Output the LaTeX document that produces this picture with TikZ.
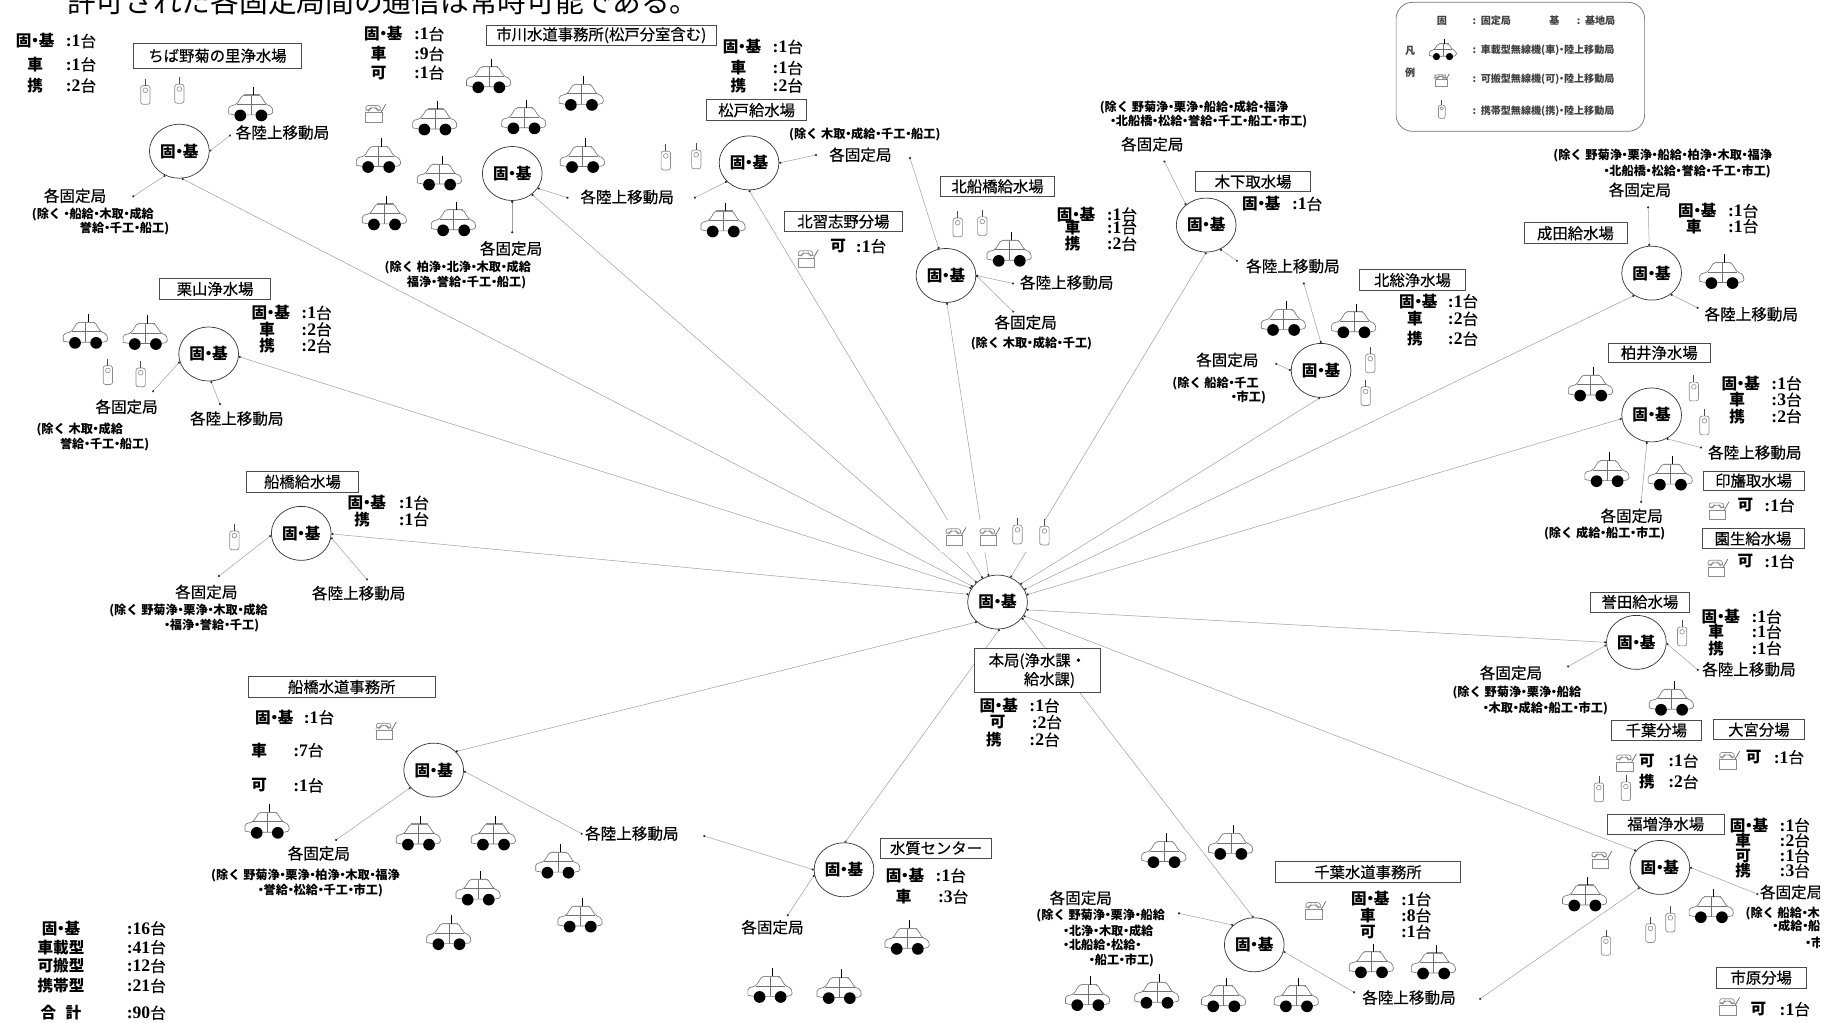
\documentclass[tikz,border=0pt]{standalone}
\usepackage{fontspec}
\usetikzlibrary{shapes.geometric,arrows.meta}
\setmainfont{Noto Sans CJK JP}
\newfontfamily\latf{Liberation Serif}
\newfontfamily\midf[FakeBold=0.35]{Noto Sans CJK JP}
\newcommand\nd{\kern-.27em ・\kern-.27em }
\newcommand\kk{固\nd 基}
\newcount\idx
\newcommand\bump{\global\advance\idx by 1\relax}
\newcommand\fs[1]{\fontsize{#1}{#1}\selectfont}
\tikzset{
 link/.style={draw=black!38,line width=.42pt,{Circle[length=1.8pt,black!85]}-{Circle[length=1.8pt,black!85]}},
 st/.style={ellipse,draw=black!80,line width=.6pt,fill=white,minimum width=51pt,minimum height=46pt,inner sep=0pt,font=\fs{13.3}\bfseries},
 bx/.style={draw=black!70,line width=.6pt,fill=white,inner sep=0pt,font=\fs{13.1}\midf,align=center},
 lb/.style={inner sep=0pt,font=\fs{13.3}\midf},
 sl/.style={inner sep=0pt,font=\fs{13.3}\bfseries},
 sc/.style={inner sep=0pt,anchor=west,font=\fs{13.3}\midf},
 ex/.style={inner sep=0pt,anchor=west,font=\fs{10.4}\bfseries},
 lg/.style={inner sep=0pt,font=\fs{8.6}\bfseries,text=black!75},
 caricon/.pic={
  \draw[black!55,line width=.55pt,rounded corners=1.5pt] (-19,7)--(-19,1)--(-12,-1)--(-7,-9)--(8,-9)--(13,-1)--(18,1)--(19,7)--(14,8) (-14,8)--(-19,7) (-4,8)--(4,8);
  \draw[black!55,line width=.5pt] (-12,-1)--(13,-1) (0,-9)--(0,8);
  \draw[black!45,line width=1pt] (-6,-9)--(8,-9);
  \draw[black,line width=.7pt] (2,-16)--(2,-9);
  \fill[black] (-9,8.5) circle[radius=5] (9,8.5) circle[radius=5];
 },
 radioicon/.pic={
  \draw[black!45,line width=.6pt] (-8,0) rectangle (6,8);
  \draw[black!45,line width=.6pt,rounded corners=2pt] (-8,-2)--(-8,-6)--(4,-6)--(5,-2)--(2,-2)--(1,-4)--(-4,-4)--(-5,-2)--cycle;
  \draw[black!60,line width=.6pt] (5,0)--(9,-7);
 },
 handyicon/.pic={
  \draw[black!45,line width=.6pt,rounded corners=2pt] (-4,-6) rectangle (4,10);
  \draw[black!45,line width=.5pt] (0,-2) circle[radius=2];
  \draw[black!70,line width=.6pt] (0,-12)--(0,-6);
 }
}
\newcommand\car[2]{\pic at (#1,#2) {caricon};}
\newcommand\rad[2]{\pic at (#1,#2) {radioicon};}
\newcommand\han[2]{\pic at (#1,#2) {handyicon};}
\newcommand\stat[5]{\bump\node[sl] (s\the\idx) at (#1,#3) {#4};\node[sc] (c\the\idx) at (#2,#3) {{\latf\bfseries\fs{15}:#5}台};}
\newcommand\exl[3]{\bump\node[ex] (x\the\idx) at (#1,#2) {#3};}
\newcommand\lab[3]{\bump\node[lb] (l\the\idx) at (#1,#2) {#3};}
\newcommand\tb[5]{\bump\node[bx,minimum width=#3pt,minimum height=#4pt] (t\the\idx) at (#1,#2) {#5};}
\begin{document}
\begin{tikzpicture}[x=1pt,y=-1pt]
\useasboundingbox (0,0) rectangle (1568,872);
\fill[white] (0,0) rectangle (1568,872);
\node[inner sep=0pt,anchor=base west,font=\fs{24.5}] (title) at (57,11) {許可された各固定局間の通信は常時可能である。};
% stations
\foreach \n/\x/\y in {A/153/129,B/437/148,C/639/139,D/807/235,E/1029/192,F/1409/233,G/1127/316,H/1409/354,I/178/302,J/257/455,K/851/513.6,L/1396/548,M/370/657,N/720/742,O/1070/806,P/1416/740}
  \node[st] (\n) at (\x,\y) {\kk};
% free ends
\foreach \n/\x/\y in {a1/197/115,a2/113/168,b1/437/199,bc/485/169,bc2/592/169,c1/697/132,c2/776/134,d1/865/242,d2/865/266.5,e1/993/137,e2/1056/223,f1/1406/176,f2/1449/263,g1/1112/241,g2/1088/310,h1/1400/429,h2/1452/382,i1/130/334.5,i2/188/345.6,j1/186/492,j2/313.6/495,l1/1337/569,l2/1449/572,p1/1500/763,op/1262/852.6,o1/1005/779,o2/1156/847,m1/286/717,m2/497/711.6,mn/600/713,n1/671.5/781.5}
  \coordinate (\n) at (\x,\y);
% to headquarters
\draw[link] (A.-85)--(K.148);
\draw[link] (B.-47)--(K.137);
\draw[link] (C.-90)--(K.122);
\draw[link] (D.-88)--(K.109);
\draw[link] (E.-90)--(K.62);
\draw[link] (G.-92)--(K.38);
\draw[link] (F.-128)--(K.25);
\draw[link] (H.187)--(K.14);
\draw[link] (I.-5)--(K.152);
\draw[link] (J.-1)--(K.165);
\draw[link] (L.180)--(K.-15);
\draw[link] (M.40)--(K.-136);
\draw[link] (N.88)--(K.-86);
\draw[link] (O.92)--(K.-33);
\draw[link] (P.145)--(K.-28);
% local links
\draw[link] (A.0)--(a1);
\draw[link] (A.-120)--(a2);
\draw[link] (B.-90)--(b1);
\draw[link] (B.-30)--(bc);
\draw[link] (C.-140)--(bc2);
\draw[link] (C.0)--(c1);
\draw[link] (D.105)--(c2);
\draw[link] (D.0)--(d1);
\draw[link] (D.0)--(d2);
\draw[link] (E.135)--(e1);
\draw[link] (E.-60)--(e2);
\draw[link] (F.95)--(f1);
\draw[link] (F.-48)--(f2);
\draw[link] (G.90)--(g1);
\draw[link] (G.180)--(g2);
\draw[link] (H.-100)--(h1);
\draw[link] (H.-58)--(h2);
\draw[link] (I.-165)--(i1);
\draw[link] (I.-85)--(i2);
\draw[link] (J.-176)--(j1);
\draw[link] (J.-8)--(j2);
\draw[link] (L.-175)--(l1);
\draw[link] (L.-2)--(l2);
\draw[link] (P.0)--(p1);
\draw[link] (P.-135)--(op);
\draw[link] (O.137)--(o1);
\draw[link] (O.-13)--(o2);
\draw[link] (M.-143)--(m1);
\draw[link] (M.-2)--(m2);
\draw[link] (N.180)--(mn);
\draw[link] (N.-170)--(n1);
% the icons above the headquarters interrupt the lines
\fill[white] (802,444) rectangle (904,471);
% icons
\rad{815}{457}\rad{844}{457}\han{868}{454}\han{891}{455}
\han{124}{79}\han{153}{78}\car{214}{90}
\rad{320}{96}\car{417}{66}\car{496}{81}\car{371}{102}\car{447}{101}\car{323}{134}\car{375}{149}\car{497}{134}\car{328}{183}\car{387}{188}
\han{568}{135}\han{594}{134}\car{617}{189}\rad{689}{220}
\han{817}{192}\han{838}{191}\car{861}{214}
\car{1095}{273}\car{1155}{275}\han{1169}{308}\han{1165}{336}
\car{1469}{233}
\car{1357}{329}\han{1445}{332}\han{1454}{361}\car{1371}{402}\car{1425}{405}
\rad{1466}{435}\rad{1465}{484}
\han{1435}{541}\car{1426}{597}
\rad{1387}{650}\rad{1475}{648}\han{1364}{674}\han{1387}{673}
\rad{1366}{733}\car{1352}{764}\car{1460}{774}\han{1425}{785}\han{1408}{794}\han{1370}{805}
\rad{1475}{858}
\car{73}{284}\car{124}{285}\han{92}{318}\han{120}{320}
\han{200}{459}
\rad{329}{623}\car{228}{702}\car{357}{712}\car{421}{712}\car{476}{736}\car{408}{759}\car{495}{782}\car{383}{797}
\car{774}{801}\car{657}{842}\car{716}{843}
\rad{1122}{776}\car{993}{727}\car{1050}{720}\car{1170}{821}\car{1223}{822}\car{928}{849}\car{987}{847}\car{1044}{850}\car{1106}{850}
% title boxes
\tb{185.5}{47.5}{143}{21}{ちば野菊の里浄水場}
\tb{513}{30}{196}{17}{市川水道事務所(松戸分室含む)}
\tb{645.5}{94}{85}{18}{松戸給水場}
\tb{719.5}{189}{101}{17}{北習志野分場}
\tb{851}{159}{97}{17}{北船橋給水場}
\tb{1069}{155}{98}{17}{木下取水場}
\tb{1344}{199}{88}{18}{成田給水場}
\tb{1205}{239}{90}{18}{北総浄水場}
\tb{1415.5}{301}{87}{17}{柏井浄水場}
\tb{1496}{410}{86}{16}{印旛取水場}
\tb{1495.5}{459.5}{87}{17}{園生給水場}
\tb{1399}{513.5}{84}{17}{誉田給水場}
\tb{1413}{623}{77}{17}{千葉分場}
\tb{1500.5}{622.5}{77}{17}{大宮分場}
\tb{1421}{703}{100}{17}{福増浄水場}
\tb{1502.5}{834}{77}{18}{市原分場}
\tb{1167}{744}{158}{18}{千葉水道事務所}
\tb{798.5}{723.5}{95}{17}{水質センター}
\tb{291.5}{586}{159}{18}{船橋水道事務所}
\tb{258}{411}{96}{18}{船橋給水場}
\tb{183.5}{246.5}{95}{18}{栗山浄水場}
\node[bx,minimum width=108pt,minimum height=38pt,align=left,font={\fontsize{13.1}{16}\selectfont\midf}] (hq) at (885,572) {本局(浄水課・\\\hspace*{30pt}給水課)};
% counts
\stat{30}{56}{35}{\kk}{1}\stat{30}{56}{55}{車}{1}\stat{30}{56}{73}{携}{2}
\stat{327}{353}{29}{\kk}{1}\stat{323}{353}{46}{車}{9}\stat{323}{353}{62}{可}{1}
\stat{633}{659}{40}{\kk}{1}\stat{630}{659}{58}{車}{1}\stat{630}{659}{73}{携}{2}
\stat{715}{730}{210}{可}{1}
\stat{918}{944}{183}{\kk}{1}\stat{915}{944}{194}{車}{1}\stat{915}{944}{208}{携}{2}
\stat{1076}{1102}{174}{\kk}{1}
\stat{1448}{1474}{180}{\kk}{1}\stat{1445}{1474}{193}{車}{1}
\stat{1210}{1235}{257}{\kk}{1}\stat{1207}{1235}{272}{車}{2}\stat{1207}{1235}{289}{携}{2}
\stat{1485}{1511}{327}{\kk}{1}\stat{1482}{1511}{341}{車}{3}\stat{1482}{1511}{355}{携}{2}
\stat{1489}{1505}{431}{可}{1}\stat{1489}{1505}{479}{可}{1}
\stat{1468}{1494}{526}{\kk}{1}\stat{1464}{1494}{539}{車}{1}\stat{1464}{1494}{553}{携}{1}
\stat{1405}{1423}{649}{可}{1}\stat{1405}{1423}{667}{携}{2}
\stat{1496}{1513}{646}{可}{1}
\stat{1492}{1518}{704}{\kk}{1}\stat{1487}{1518}{717}{車}{2}\stat{1487}{1518}{730}{可}{1}\stat{1487}{1518}{743}{携}{3}
\stat{1500}{1518}{861}{可}{1}
\stat{231}{257}{267}{\kk}{1}\stat{228}{257}{281}{車}{2}\stat{228}{257}{295}{携}{2}
\stat{313}{340}{429}{\kk}{1}\stat{309}{340}{443}{携}{1}
\stat{234}{259}{612}{\kk}{1}\stat{221}{250}{640}{車}{7}\stat{221}{250}{670}{可}{1}
\stat{852}{878}{602}{\kk}{1}\stat{851}{880}{616}{可}{2}\stat{848}{878}{631}{携}{2}
\stat{772}{798}{747}{\kk}{1}\stat{771}{800}{765}{車}{3}
\stat{1169}{1195}{767}{\kk}{1}\stat{1167}{1195}{781}{車}{8}\stat{1167}{1195}{795}{可}{1}
\stat{52}{108}{792}{\kk}{16}\stat{52}{108}{808}{車載型}{41}\stat{52}{108}{824}{可搬型}{12}\stat{52}{108}{841}{携帯型}{21}\stat{52}{108}{864}{合\hspace{8pt}計}{90}
% station labels
\lab{64}{167}{各固定局}\lab{241}{113}{各陸上移動局}
\lab{436}{212}{各固定局}\lab{535}{168}{各陸上移動局}
\lab{734}{132}{各固定局}
\lab{910}{241}{各陸上移動局}\lab{875}{275}{各固定局}
\lab{983}{123}{各固定局}\lab{1103}{227}{各陸上移動局}
\lab{1399}{162}{各固定局}\lab{1494}{268}{各陸上移動局}
\lab{1047}{307}{各固定局}
\lab{1497}{386}{各陸上移動局}\lab{1392}{440}{各固定局}
\lab{1289}{574}{各固定局}\lab{1492}{571}{各陸上移動局}
\lab{1528}{761}{各固定局}\lab{1202}{851}{各陸上移動局}
\lab{108}{347}{各固定局}\lab{202}{357}{各陸上移動局}
\lab{176}{505}{各固定局}\lab{306}{506}{各陸上移動局}
\lab{272}{728}{各固定局}\lab{539}{711}{各陸上移動局}
\lab{659}{791}{各固定局}
\lab{922}{766}{各固定局}
% exclusion lists
\exl{27}{183}{(除く \nd 船給\nd 木取\nd 成給}\exl{68}{195}{誉給\nd 千工\nd 船工)}
\exl{328}{228}{(除く 柏浄\nd 北浄\nd 木取\nd 成給}\exl{347}{241}{福浄\nd 誉給\nd 千工\nd 船工)}
\exl{673}{115}{(除く 木取\nd 成給\nd 千工\nd 船工)}
\exl{828}{293}{(除く 木取\nd 成給\nd 千工)}
\exl{938}{92}{(除く 野菊浄\nd 栗浄\nd 船給\nd 成給\nd 福浄}\exl{947}{104}{\nd 北船橋\nd 松給\nd 誉給\nd 千工\nd 船工\nd 市工)}
\exl{1325}{133}{(除く 野菊浄\nd 栗浄\nd 船給\nd 柏浄\nd 木取\nd 福浄}\exl{1368}{146}{\nd 北船橋\nd 松給\nd 誉給\nd 千工\nd 市工)}
\exl{1000}{327}{(除く 船給\nd 千工}\exl{1050}{339}{\nd 市工)}
\exl{1317}{455}{(除く 成給\nd 船工\nd 市工)}
\exl{1239}{591}{(除く 野菊浄\nd 栗浄\nd 船給}\exl{1265}{604}{\nd 木取\nd 成給\nd 船工\nd 市工)}
\exl{31}{366}{(除く 木取\nd 成給}\exl{51}{379}{誉給\nd 千工\nd 船工)}
\exl{93}{521}{(除く 野菊浄\nd 栗浄\nd 木取\nd 成給}\exl{140}{534}{\nd 福浄\nd 誉給\nd 千工)}
\exl{180}{747}{(除く 野菊浄\nd 栗浄\nd 柏浄\nd 木取\nd 福浄}\exl{220}{760}{\nd 誉給\nd 松給\nd 千工\nd 市工)}
\exl{884}{781}{(除く 野菊浄\nd 栗浄\nd 船給}\exl{907}{794}{\nd 北浄\nd 木取\nd 成給}\exl{907}{806}{\nd 北船給\nd 松給\nd}\exl{929}{819}{\nd 船工\nd 市工)}
\exl{1489}{779}{(除く 船給\nd 木}\exl{1512}{790}{\nd 成給\nd 船}\exl{1540}{804}{\nd 市}
% cut-off margin at right
\fill[white] (1553,745) rectangle (1568,815);
% legend
\draw[black!55,line width=.6pt,rounded corners=14pt] (1191,2) rectangle (1403,112);
\node[lg] (lg1) at (1230,17.6) {固};
\node[lg,anchor=west] (lg2) at (1256,18) {:\hspace{4pt}固定局};
\node[lg] (lg3) at (1326,17.6) {基};
\node[lg,anchor=west] (lg4) at (1345,18) {:\hspace{4pt}基地局};
\node[lg] (lg5) at (1203,43) {凡};
\node[lg] (lg6) at (1203,62) {例};
\pic[scale=.62] at (1231,43) {caricon};
\pic[scale=.72] at (1230,68) {radioicon};
\pic[scale=.72] at (1230,94) {handyicon};
\node[lg,anchor=west] (lg7) at (1256,43) {:\hspace{4pt}車載型無線機(車)\nd 陸上移動局};
\node[lg,anchor=west] (lg8) at (1256,68) {:\hspace{4pt}可搬型無線機(可)\nd 陸上移動局};
\node[lg,anchor=west] (lg9) at (1256,95) {:\hspace{4pt}携帯型無線機(携)\nd 陸上移動局};
\end{tikzpicture}
\end{document}
